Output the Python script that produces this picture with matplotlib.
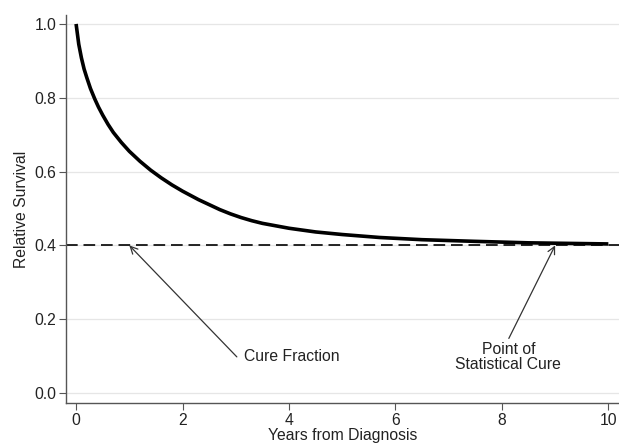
import matplotlib
matplotlib.use("Agg")
import matplotlib.pyplot as plt

years = [0, 0.05, 0.1, 0.15, 0.2, 0.27, 0.35, 0.42, 0.5, 0.6, 0.7, 0.85, 1.0,
         1.2, 1.4, 1.6, 1.8, 2.0, 2.3, 2.7, 2.9, 3.1, 3.3, 3.5, 4.0, 4.5, 5.0,
         5.7, 6.5, 7.5, 8.5, 10.0]
relative_survival = [1.0, 0.945, 0.908, 0.878, 0.855, 0.825, 0.797, 0.775, 0.753,
                     0.728, 0.706, 0.679, 0.655, 0.628, 0.604, 0.583, 0.564, 0.547,
                     0.524, 0.497, 0.4855, 0.4755, 0.467, 0.4598, 0.4465, 0.4365,
                     0.4295, 0.4215, 0.4155, 0.411, 0.407, 0.404]
cure_fraction = 0.4
x_ticks = [0, 2, 4, 6, 8, 10]
y_ticks = [0.0, 0.2, 0.4, 0.6, 0.8, 1.0]
y_tick_labels = ["0.0", "0.2", "0.4", "0.6", "0.8", "1.0"]

plt.rcParams['font.family'] = ['Liberation Sans', 'DejaVu Sans']
FS = 11.3
TXT = "#222222"

fig = plt.figure(figsize=(6.19, 4.44), dpi=100)
ax = fig.add_axes([0.1066, 0.0923, 0.8934, 0.8737])

ax.set_xlim(-0.19, 10.2)
ax.set_ylim(-0.027, 1.024)

for yv in y_ticks:
    ax.axhline(yv, color="#e6e6e6", lw=0.9, zorder=0)

ax.axhline(cure_fraction, color="black", lw=1.2, dashes=(7, 3.5), zorder=2)
ax.plot(years, relative_survival, color="black", lw=2.6,
        solid_capstyle="butt", solid_joinstyle="round", zorder=3)

arrow_kw = dict(arrowstyle="->", color="#333333", lw=0.9,
                shrinkA=0, shrinkB=0, mutation_scale=13)
ax.annotate("", xy=(1.0, cure_fraction), xytext=(3.02, 0.098), arrowprops=arrow_kw)
ax.text(3.15, 0.098, "Cure Fraction", ha="left", va="center", fontsize=FS, color=TXT)
ax.annotate("", xy=(9.0, cure_fraction), xytext=(8.13, 0.148), arrowprops=arrow_kw)
ax.text(8.12, 0.099, "Point of\nStatistical Cure", ha="center", va="center",
        fontsize=FS, color=TXT, linespacing=1.0)

for s in ["top", "right"]:
    ax.spines[s].set_visible(False)
for s in ["left", "bottom"]:
    ax.spines[s].set_color("#555555")
    ax.spines[s].set_linewidth(1.0)

ax.set_xticks(x_ticks)
ax.set_yticks(y_ticks)
ax.set_yticklabels(y_tick_labels)
ax.tick_params(axis="both", direction="out", length=5, width=0.8, color="#555555",
               labelsize=FS, labelcolor=TXT, pad=2)
ax.set_xlabel("Years from Diagnosis", fontsize=FS, labelpad=0, color=TXT)
ax.set_ylabel("Relative Survival", fontsize=FS, labelpad=4, color=TXT)

fig.savefig("out.png", dpi=100)
